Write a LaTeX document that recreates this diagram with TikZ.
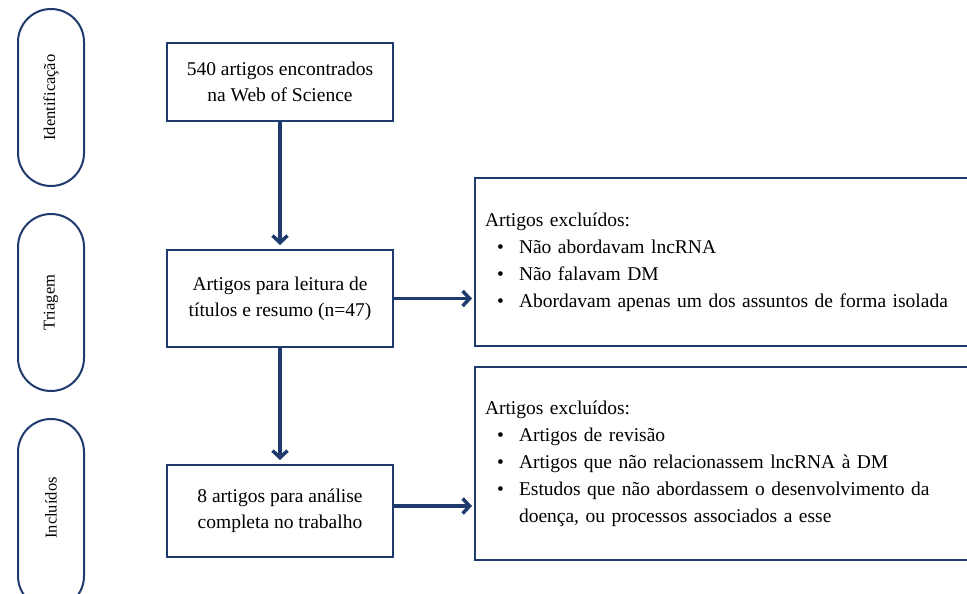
\documentclass[tikz,border=0pt]{standalone}
\usepackage{fontspec}
\setmainfont{Liberation Serif}
\usetikzlibrary{arrows.meta}
\definecolor{navy}{HTML}{1F3A6C}
\newcommand\bitem[1]{\makebox[34pt][l]{\hspace{12pt}\textbullet}#1}
\begin{document}
\begin{tikzpicture}[x=1pt,y=-1pt,
  pill/.style={draw=navy,line width=2pt,rounded corners=33pt,minimum width=66pt,anchor=north west,inner sep=0pt},
  pilltxt/.style={rotate=90,font=\fontsize{16.5}{20}\selectfont},
  mainbox/.style={draw=navy,line width=2pt,minimum width=226pt,anchor=north west,align=center,font=\fontsize{19.5}{26}\selectfont},
  exbox/.style={draw=navy,line width=2pt,anchor=north west,text width=480pt,inner xsep=10pt,align=left,font=\fontsize{19.5}{27}\selectfont},
  flow/.style={draw=navy,line width=3.5pt,-{Straight Barb[length=7pt,width=15pt,line width=3.5pt]},shorten >=3pt}]
\clip (0,0) rectangle (967,594);
\fill[white] (0,0) rectangle (967,594);
% stage pills
\node[pill,minimum height=177pt] (pId) at (17,8) {};
\node[pilltxt] at (pId.center) {Identificação};
\node[pill,minimum height=177pt] (pTr) at (17,213) {};
\node[pilltxt] at (pTr.center) {Triagem};
\node[pill,minimum height=190pt] (pIn) at (17,418) {};
\node[pilltxt] at ([yshift=6pt]pIn.center) {Incluídos};
% main boxes
\node[mainbox,minimum height=78pt] (b1) at (166,42) {540 artigos encontrados\\na Web of Science};
\node[mainbox,minimum height=97pt] (b2) at (166,249) {Artigos para leitura de\\títulos e resumo (n=47)};
\node[mainbox,minimum height=92pt] (b3) at (166,464) {8 artigos para análise\\completa no trabalho};
% exclusion boxes
\node[exbox,minimum height=168pt] (exA) at (474,177) {Artigos excluídos:\\
\bitem{Não abordavam lncRNA}\\
\bitem{Não falavam DM}\\
\bitem{Abordavam apenas um dos assuntos de forma isolada}};
\node[exbox,minimum height=193pt] (exB) at (474,366) {Artigos excluídos:\\
\bitem{Artigos de revisão}\\
\bitem{Artigos que não relacionassem lncRNA à DM}\\
\bitem{Estudos que não abordassem o desenvolvimento da}\\
\hspace*{34pt}doença, ou processos associados a esse};
% connectors
\draw[flow,shorten >=4pt] (b1.south) -- (b2.north);
\draw[flow,shorten >=4pt] (b2.south) -- (b3.north);
\draw[flow,shorten >=2pt] (b2.east) -- (b2.east -| exA.west);
\draw[flow,shorten >=2pt] ([yshift=5pt]b3.east) -- ([yshift=5pt]b3.east -| exB.west);
\end{tikzpicture}
\end{document}
